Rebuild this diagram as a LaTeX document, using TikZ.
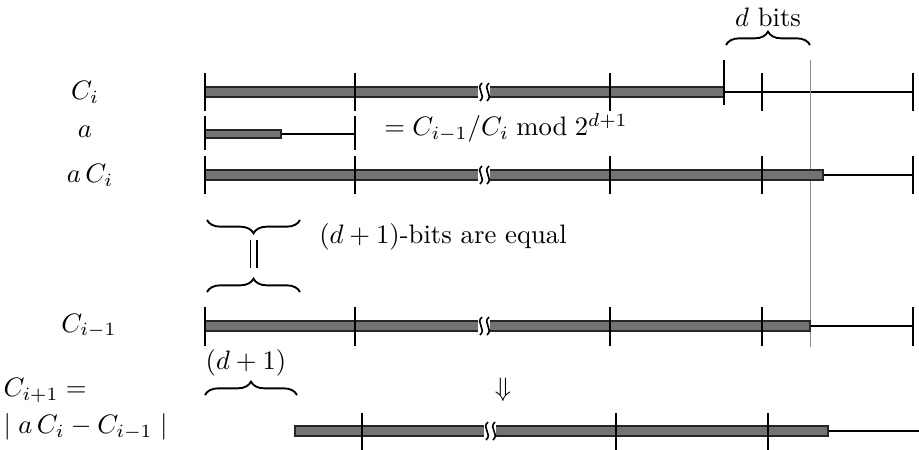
\documentclass[tikz,border=0pt]{standalone}
\usetikzlibrary{decorations.pathreplacing}

% gap mark in a long bar: #1 = x, #2 = y
\newcommand{\bitbreak}[2]{%
  \fill[white] (#1-6,#2-7) rectangle (#1+6,#2+7);
  \draw[squig] (#1-2,#2-9) .. controls (#1-9,#2-3) and (#1+3,#2+3) .. (#1-4,#2+9);
  \draw[squig] (#1+5,#2-9) .. controls (#1-2,#2-3) and (#1+10,#2+3) .. (#1+3,#2+9);
}

\begin{document}
\begin{tikzpicture}[
    x=0.375pt, y=-0.375pt,
    bar/.style={draw=black!85, fill=black!55, line width=0.5pt},
    wire/.style={line width=0.45pt},
    tickline/.style={line width=0.55pt},
    guide/.style={black!45, line width=0.3pt},
    squig/.style={line width=0.6pt},
    curly/.style={decorate, decoration={brace, amplitude=5pt}, line width=0.7pt}
  ]
  \useasboundingbox (0,0) rectangle (919,450);

  % row labels
  \node (Ci)   at (85,92)  {$C_i$};
  \node (a)    at (85,132) {$a$};
  \node (aCi)  at (90,175) {$a\,C_i$};
  \node (Cim)  at (89,326) {$C_{i-1}$};
  \node[anchor=west, inner sep=0pt] (Cip)  at (3,390) {$C_{i+1} =$};
  \node[anchor=west, inner sep=0pt] (absd) at (3,427) {$\mid a\,C_i - C_{i-1} \mid$};

  % C_i
  \draw[wire] (724,92) -- (913,92);
  \draw[bar] (205,87) rectangle (724,97);
  \bitbreak{484}{92}
  \foreach \x in {205,355,610,762,913}
    \draw[tickline] (\x,73) -- (\x,111);
  \draw[tickline] (724,60) -- (724,105);

  % d bits
  \draw[curly] (726,45) -- (810,45);
  \node (dbits) at (768,17) {$d$ bits};
  \draw[guide] (810,60) -- (810,347);

  % a
  \draw[wire] (281,134) -- (355,134);
  \draw[bar] (205,130) rectangle (281,138);
  \foreach \x in {205,355}
    \draw[tickline] (\x,116) -- (\x,150);
  \node (modtxt) at (506,128) {$= C_{i-1}/C_i \bmod 2^{d+1}$};

  % a C_i
  \draw[wire] (823,175) -- (913,175);
  \draw[bar] (205,170) rectangle (823,180);
  \bitbreak{484}{175}
  \foreach \x in {205,355,610,762,913}
    \draw[tickline] (\x,156) -- (\x,194);

  % equal low bits
  \draw[curly] (300,220) -- (207,220);
  \draw[line width=0.6pt] (250.5,240) -- (250.5,268);
  \draw[line width=0.6pt] (257,240) -- (257,268);
  \draw[curly] (207,292) -- (300,292);
  \node (eqtxt) at (443,237) {$(d+1)$-bits are equal};

  % C_{i-1}
  \draw[wire] (810,326) -- (913,326);
  \draw[bar] (205,321) rectangle (810,331);
  \bitbreak{484}{326}
  \foreach \x in {205,355,610,762,913}
    \draw[tickline] (\x,307) -- (\x,346);

  % C_{i+1}
  \node (dpone) at (246,363) {$(d+1)$};
  \draw[curly] (205,395) -- (297,395);
  \node (darrow) at (503,390) {$\Downarrow$};
  \draw[wire] (828,431) -- (919,431);
  \draw[bar] (295,426) rectangle (828,436);
  \bitbreak{490}{431}
  \foreach \x in {362,616,768}
    \draw[tickline] (\x,413) -- (\x,450);
\end{tikzpicture}
\end{document}
